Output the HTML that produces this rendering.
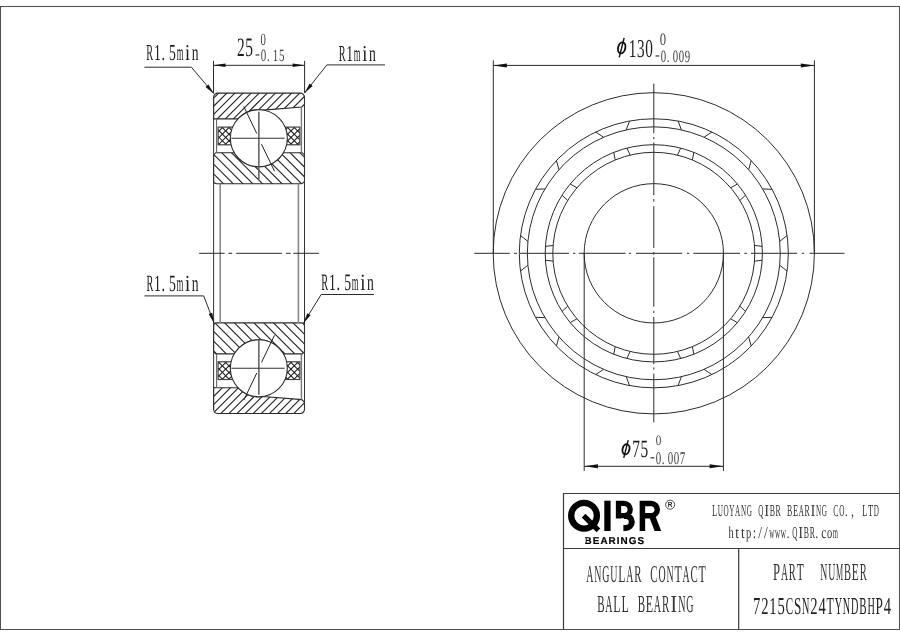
<!DOCTYPE html>
<html><head><meta charset="utf-8"><title>7215CSN24TYNDBHP4</title>
<style>html,body{margin:0;padding:0;background:#fff;}svg{display:block;}</style></head>
<body>
<svg width="900" height="636" viewBox="0 0 900 636">
<defs><filter id="gray" filterUnits="userSpaceOnUse" x="0" y="0" width="900" height="636" color-interpolation-filters="sRGB"><feColorMatrix type="saturate" values="0"/></filter></defs>
<rect x="0" y="0" width="900" height="636" fill="#fff"/>
<g filter="url(#gray)">
<rect x="0.5" y="6.5" width="899" height="623" fill="none" stroke="#505050" stroke-width="1.05"/>
<clipPath id="cot"><path d="M 213.6 118.9 L 213.6 97.3 A 4.2 4.2 0 0 1 217.8 93.1 L 300.3 93.1 A 4.2 4.2 0 0 1 304.5 97.3 L 304.5 104.2 L 301.9 107 L 263.35 110.16 A 28.5 28.5 0 0 0 237.97 118.9 Z"/></clipPath>
<g clip-path="url(#cot)" stroke="#222" stroke-width="1.1"><line x1="191.3" y1="80" x2="141.3" y2="130"/><line x1="199.4" y1="80" x2="149.4" y2="130"/><line x1="207.5" y1="80" x2="157.5" y2="130"/><line x1="215.6" y1="80" x2="165.6" y2="130"/><line x1="223.7" y1="80" x2="173.7" y2="130"/><line x1="231.8" y1="80" x2="181.8" y2="130"/><line x1="239.9" y1="80" x2="189.9" y2="130"/><line x1="248" y1="80" x2="198" y2="130"/><line x1="256.1" y1="80" x2="206.1" y2="130"/><line x1="264.2" y1="80" x2="214.2" y2="130"/><line x1="272.3" y1="80" x2="222.3" y2="130"/><line x1="280.4" y1="80" x2="230.4" y2="130"/><line x1="288.5" y1="80" x2="238.5" y2="130"/><line x1="296.6" y1="80" x2="246.6" y2="130"/><line x1="304.7" y1="80" x2="254.7" y2="130"/><line x1="312.8" y1="80" x2="262.8" y2="130"/><line x1="320.9" y1="80" x2="270.9" y2="130"/><line x1="329" y1="80" x2="279" y2="130"/><line x1="337.1" y1="80" x2="287.1" y2="130"/><line x1="345.2" y1="80" x2="295.2" y2="130"/><line x1="353.3" y1="80" x2="303.3" y2="130"/><line x1="361.4" y1="80" x2="311.4" y2="130"/><line x1="369.5" y1="80" x2="319.5" y2="130"/><line x1="377.6" y1="80" x2="327.6" y2="130"/><line x1="385.7" y1="80" x2="335.7" y2="130"/><line x1="393.8" y1="80" x2="343.8" y2="130"/></g>
<path d="M 213.6 118.9 L 213.6 97.3 A 4.2 4.2 0 0 1 217.8 93.1 L 300.3 93.1 A 4.2 4.2 0 0 1 304.5 97.3 L 304.5 104.2 L 301.9 107 L 263.35 110.16 A 28.5 28.5 0 0 0 237.97 118.9 Z" fill="none" stroke="#2b2b2b" stroke-width="1.1"/>
<clipPath id="cit"><path d="M 213.6 154.9 L 215.8 152.7 L 234.26 152.7 A 28.5 28.5 0 0 0 283.44 152.7 L 302.3 152.7 L 304.5 154.9 L 304.5 180.4 A 3.3 3.3 0 0 1 301.2 183.7 L 216.9 183.7 A 3.3 3.3 0 0 1 213.6 180.4 Z"/></clipPath>
<g clip-path="url(#cit)" stroke="#222" stroke-width="1.1"><line x1="101.54" y1="140" x2="151.54" y2="190"/><line x1="111.31" y1="140" x2="161.31" y2="190"/><line x1="121.08" y1="140" x2="171.08" y2="190"/><line x1="130.85" y1="140" x2="180.85" y2="190"/><line x1="140.62" y1="140" x2="190.62" y2="190"/><line x1="150.39" y1="140" x2="200.39" y2="190"/><line x1="160.16" y1="140" x2="210.16" y2="190"/><line x1="169.93" y1="140" x2="219.93" y2="190"/><line x1="179.7" y1="140" x2="229.7" y2="190"/><line x1="189.47" y1="140" x2="239.47" y2="190"/><line x1="199.24" y1="140" x2="249.24" y2="190"/><line x1="209.01" y1="140" x2="259.01" y2="190"/><line x1="218.78" y1="140" x2="268.78" y2="190"/><line x1="228.55" y1="140" x2="278.55" y2="190"/><line x1="238.32" y1="140" x2="288.32" y2="190"/><line x1="248.09" y1="140" x2="298.09" y2="190"/><line x1="257.86" y1="140" x2="307.86" y2="190"/><line x1="267.63" y1="140" x2="317.63" y2="190"/><line x1="277.4" y1="140" x2="327.4" y2="190"/><line x1="287.17" y1="140" x2="337.17" y2="190"/><line x1="296.94" y1="140" x2="346.94" y2="190"/><line x1="306.71" y1="140" x2="356.71" y2="190"/><line x1="316.48" y1="140" x2="366.48" y2="190"/><line x1="326.25" y1="140" x2="376.25" y2="190"/></g>
<path d="M 213.6 154.9 L 215.8 152.7 L 234.26 152.7 A 28.5 28.5 0 0 0 283.44 152.7 L 302.3 152.7 L 304.5 154.9 L 304.5 180.4 A 3.3 3.3 0 0 1 301.2 183.7 L 216.9 183.7 A 3.3 3.3 0 0 1 213.6 180.4 Z" fill="none" stroke="#2b2b2b" stroke-width="1.1"/>
<clipPath id="cgtL"><rect x="218.1" y="127.1" width="17.9" height="17.7"/></clipPath>
<g clip-path="url(#cgtL)" stroke="#1a1a1a" stroke-width="1.05"><line x1="185.23" y1="125.1" x2="163.53" y2="146.8"/><line x1="180.33" y1="125.1" x2="202.03" y2="146.8"/><line x1="191.83" y1="125.1" x2="170.13" y2="146.8"/><line x1="186.93" y1="125.1" x2="208.63" y2="146.8"/><line x1="198.43" y1="125.1" x2="176.73" y2="146.8"/><line x1="193.53" y1="125.1" x2="215.23" y2="146.8"/><line x1="205.03" y1="125.1" x2="183.33" y2="146.8"/><line x1="200.13" y1="125.1" x2="221.83" y2="146.8"/><line x1="211.63" y1="125.1" x2="189.93" y2="146.8"/><line x1="206.73" y1="125.1" x2="228.43" y2="146.8"/><line x1="218.23" y1="125.1" x2="196.53" y2="146.8"/><line x1="213.33" y1="125.1" x2="235.03" y2="146.8"/><line x1="224.83" y1="125.1" x2="203.13" y2="146.8"/><line x1="219.93" y1="125.1" x2="241.63" y2="146.8"/><line x1="231.43" y1="125.1" x2="209.73" y2="146.8"/><line x1="226.53" y1="125.1" x2="248.23" y2="146.8"/><line x1="238.03" y1="125.1" x2="216.33" y2="146.8"/><line x1="233.13" y1="125.1" x2="254.83" y2="146.8"/><line x1="244.63" y1="125.1" x2="222.93" y2="146.8"/><line x1="239.73" y1="125.1" x2="261.43" y2="146.8"/><line x1="251.23" y1="125.1" x2="229.53" y2="146.8"/><line x1="246.33" y1="125.1" x2="268.03" y2="146.8"/><line x1="257.83" y1="125.1" x2="236.13" y2="146.8"/><line x1="252.93" y1="125.1" x2="274.63" y2="146.8"/><line x1="264.43" y1="125.1" x2="242.73" y2="146.8"/><line x1="259.53" y1="125.1" x2="281.23" y2="146.8"/></g>
<rect x="218.1" y="127.1" width="17.9" height="17.7" fill="none" stroke="#444" stroke-width="1.2"/>
<clipPath id="cgtR"><rect x="282" y="127.1" width="17.9" height="17.7"/></clipPath>
<g clip-path="url(#cgtR)" stroke="#1a1a1a" stroke-width="1.05"><line x1="257.11" y1="125.1" x2="235.41" y2="146.8"/><line x1="252.21" y1="125.1" x2="273.91" y2="146.8"/><line x1="263.71" y1="125.1" x2="242.01" y2="146.8"/><line x1="258.81" y1="125.1" x2="280.51" y2="146.8"/><line x1="270.31" y1="125.1" x2="248.61" y2="146.8"/><line x1="265.41" y1="125.1" x2="287.11" y2="146.8"/><line x1="276.91" y1="125.1" x2="255.21" y2="146.8"/><line x1="272.01" y1="125.1" x2="293.71" y2="146.8"/><line x1="283.51" y1="125.1" x2="261.81" y2="146.8"/><line x1="278.61" y1="125.1" x2="300.31" y2="146.8"/><line x1="290.11" y1="125.1" x2="268.41" y2="146.8"/><line x1="285.21" y1="125.1" x2="306.91" y2="146.8"/><line x1="296.71" y1="125.1" x2="275.01" y2="146.8"/><line x1="291.81" y1="125.1" x2="313.51" y2="146.8"/><line x1="303.31" y1="125.1" x2="281.61" y2="146.8"/><line x1="298.41" y1="125.1" x2="320.11" y2="146.8"/><line x1="309.91" y1="125.1" x2="288.21" y2="146.8"/><line x1="305.01" y1="125.1" x2="326.71" y2="146.8"/><line x1="316.51" y1="125.1" x2="294.81" y2="146.8"/><line x1="311.61" y1="125.1" x2="333.31" y2="146.8"/><line x1="323.11" y1="125.1" x2="301.41" y2="146.8"/><line x1="318.21" y1="125.1" x2="339.91" y2="146.8"/><line x1="329.71" y1="125.1" x2="308.01" y2="146.8"/><line x1="324.81" y1="125.1" x2="346.51" y2="146.8"/><line x1="336.31" y1="125.1" x2="314.61" y2="146.8"/><line x1="331.41" y1="125.1" x2="353.11" y2="146.8"/></g>
<rect x="282" y="127.1" width="17.9" height="17.7" fill="none" stroke="#444" stroke-width="1.2"/>
<circle cx="258.85" cy="138.3" r="28.5" fill="#fff" stroke="#2b2b2b" stroke-width="1.1"/>
<line x1="258.85" y1="111.8" x2="258.85" y2="179.4" stroke="#5c5c5c" stroke-width="1.5"/>
<line x1="231.4" y1="138.3" x2="284.6" y2="138.3" stroke="#303030" stroke-width="1.1"/>
<line x1="243.8" y1="106.5" x2="256.8" y2="133.6" stroke="#222" stroke-width="1"/>
<line x1="261.5" y1="144.2" x2="274.5" y2="171.3" stroke="#222" stroke-width="1"/>
<line x1="216.6" y1="118.9" x2="216.6" y2="152.7" stroke="#666" stroke-width="1.1"/>
<line x1="301.4" y1="107" x2="301.4" y2="152.7" stroke="#777" stroke-width="1.4"/>
<clipPath id="cob"><path d="M 213.6 387.7 L 213.6 409.3 A 4.2 4.2 0 0 0 217.8 413.5 L 300.3 413.5 A 4.2 4.2 0 0 0 304.5 409.3 L 304.5 402.4 L 301.9 399.6 L 263.35 396.44 A 28.5 28.5 0 0 1 237.97 387.7 Z"/></clipPath>
<g clip-path="url(#cob)" stroke="#222" stroke-width="1.1"><line x1="205.8" y1="380" x2="160.8" y2="425"/><line x1="213.9" y1="380" x2="168.9" y2="425"/><line x1="222" y1="380" x2="177" y2="425"/><line x1="230.1" y1="380" x2="185.1" y2="425"/><line x1="238.2" y1="380" x2="193.2" y2="425"/><line x1="246.3" y1="380" x2="201.3" y2="425"/><line x1="254.4" y1="380" x2="209.4" y2="425"/><line x1="262.5" y1="380" x2="217.5" y2="425"/><line x1="270.6" y1="380" x2="225.6" y2="425"/><line x1="278.7" y1="380" x2="233.7" y2="425"/><line x1="286.8" y1="380" x2="241.8" y2="425"/><line x1="294.9" y1="380" x2="249.9" y2="425"/><line x1="303" y1="380" x2="258" y2="425"/><line x1="311.1" y1="380" x2="266.1" y2="425"/><line x1="319.2" y1="380" x2="274.2" y2="425"/><line x1="327.3" y1="380" x2="282.3" y2="425"/><line x1="335.4" y1="380" x2="290.4" y2="425"/><line x1="343.5" y1="380" x2="298.5" y2="425"/><line x1="351.6" y1="380" x2="306.6" y2="425"/><line x1="359.7" y1="380" x2="314.7" y2="425"/><line x1="367.8" y1="380" x2="322.8" y2="425"/><line x1="375.9" y1="380" x2="330.9" y2="425"/><line x1="384" y1="380" x2="339" y2="425"/><line x1="392.1" y1="380" x2="347.1" y2="425"/><line x1="400.2" y1="380" x2="355.2" y2="425"/><line x1="408.3" y1="380" x2="363.3" y2="425"/></g>
<path d="M 213.6 387.7 L 213.6 409.3 A 4.2 4.2 0 0 0 217.8 413.5 L 300.3 413.5 A 4.2 4.2 0 0 0 304.5 409.3 L 304.5 402.4 L 301.9 399.6 L 263.35 396.44 A 28.5 28.5 0 0 1 237.97 387.7 Z" fill="none" stroke="#2b2b2b" stroke-width="1.1"/>
<clipPath id="cib"><path d="M 213.6 351.7 L 215.8 353.9 L 234.26 353.9 A 28.5 28.5 0 0 1 283.44 353.9 L 302.3 353.9 L 304.5 351.7 L 304.5 326.2 A 3.3 3.3 0 0 0 301.2 322.9 L 216.9 322.9 A 3.3 3.3 0 0 0 213.6 326.2 Z"/></clipPath>
<g clip-path="url(#cib)" stroke="#222" stroke-width="1.1"><line x1="138.64" y1="315" x2="188.64" y2="365"/><line x1="148.41" y1="315" x2="198.41" y2="365"/><line x1="158.18" y1="315" x2="208.18" y2="365"/><line x1="167.95" y1="315" x2="217.95" y2="365"/><line x1="177.72" y1="315" x2="227.72" y2="365"/><line x1="187.49" y1="315" x2="237.49" y2="365"/><line x1="197.26" y1="315" x2="247.26" y2="365"/><line x1="207.03" y1="315" x2="257.03" y2="365"/><line x1="216.8" y1="315" x2="266.8" y2="365"/><line x1="226.57" y1="315" x2="276.57" y2="365"/><line x1="236.34" y1="315" x2="286.34" y2="365"/><line x1="246.11" y1="315" x2="296.11" y2="365"/><line x1="255.88" y1="315" x2="305.88" y2="365"/><line x1="265.65" y1="315" x2="315.65" y2="365"/><line x1="275.42" y1="315" x2="325.42" y2="365"/><line x1="285.19" y1="315" x2="335.19" y2="365"/><line x1="294.96" y1="315" x2="344.96" y2="365"/><line x1="304.73" y1="315" x2="354.73" y2="365"/><line x1="314.5" y1="315" x2="364.5" y2="365"/><line x1="324.27" y1="315" x2="374.27" y2="365"/><line x1="334.04" y1="315" x2="384.04" y2="365"/><line x1="343.81" y1="315" x2="393.81" y2="365"/><line x1="353.58" y1="315" x2="403.58" y2="365"/><line x1="363.35" y1="315" x2="413.35" y2="365"/></g>
<path d="M 213.6 351.7 L 215.8 353.9 L 234.26 353.9 A 28.5 28.5 0 0 1 283.44 353.9 L 302.3 353.9 L 304.5 351.7 L 304.5 326.2 A 3.3 3.3 0 0 0 301.2 322.9 L 216.9 322.9 A 3.3 3.3 0 0 0 213.6 326.2 Z" fill="none" stroke="#2b2b2b" stroke-width="1.1"/>
<clipPath id="cgbL"><rect x="218.1" y="361.8" width="17.9" height="17.7"/></clipPath>
<g clip-path="url(#cgbL)" stroke="#1a1a1a" stroke-width="1.05"><line x1="202.03" y1="359.8" x2="180.33" y2="381.5"/><line x1="163.53" y1="359.8" x2="185.23" y2="381.5"/><line x1="208.63" y1="359.8" x2="186.93" y2="381.5"/><line x1="170.13" y1="359.8" x2="191.83" y2="381.5"/><line x1="215.23" y1="359.8" x2="193.53" y2="381.5"/><line x1="176.73" y1="359.8" x2="198.43" y2="381.5"/><line x1="221.83" y1="359.8" x2="200.13" y2="381.5"/><line x1="183.33" y1="359.8" x2="205.03" y2="381.5"/><line x1="228.43" y1="359.8" x2="206.73" y2="381.5"/><line x1="189.93" y1="359.8" x2="211.63" y2="381.5"/><line x1="235.03" y1="359.8" x2="213.33" y2="381.5"/><line x1="196.53" y1="359.8" x2="218.23" y2="381.5"/><line x1="241.63" y1="359.8" x2="219.93" y2="381.5"/><line x1="203.13" y1="359.8" x2="224.83" y2="381.5"/><line x1="248.23" y1="359.8" x2="226.53" y2="381.5"/><line x1="209.73" y1="359.8" x2="231.43" y2="381.5"/><line x1="254.83" y1="359.8" x2="233.13" y2="381.5"/><line x1="216.33" y1="359.8" x2="238.03" y2="381.5"/><line x1="261.43" y1="359.8" x2="239.73" y2="381.5"/><line x1="222.93" y1="359.8" x2="244.63" y2="381.5"/><line x1="268.03" y1="359.8" x2="246.33" y2="381.5"/><line x1="229.53" y1="359.8" x2="251.23" y2="381.5"/><line x1="274.63" y1="359.8" x2="252.93" y2="381.5"/><line x1="236.13" y1="359.8" x2="257.83" y2="381.5"/><line x1="281.23" y1="359.8" x2="259.53" y2="381.5"/><line x1="242.73" y1="359.8" x2="264.43" y2="381.5"/></g>
<rect x="218.1" y="361.8" width="17.9" height="17.7" fill="none" stroke="#444" stroke-width="1.2"/>
<clipPath id="cgbR"><rect x="282" y="361.8" width="17.9" height="17.7"/></clipPath>
<g clip-path="url(#cgbR)" stroke="#1a1a1a" stroke-width="1.05"><line x1="273.91" y1="359.8" x2="252.21" y2="381.5"/><line x1="235.41" y1="359.8" x2="257.11" y2="381.5"/><line x1="280.51" y1="359.8" x2="258.81" y2="381.5"/><line x1="242.01" y1="359.8" x2="263.71" y2="381.5"/><line x1="287.11" y1="359.8" x2="265.41" y2="381.5"/><line x1="248.61" y1="359.8" x2="270.31" y2="381.5"/><line x1="293.71" y1="359.8" x2="272.01" y2="381.5"/><line x1="255.21" y1="359.8" x2="276.91" y2="381.5"/><line x1="300.31" y1="359.8" x2="278.61" y2="381.5"/><line x1="261.81" y1="359.8" x2="283.51" y2="381.5"/><line x1="306.91" y1="359.8" x2="285.21" y2="381.5"/><line x1="268.41" y1="359.8" x2="290.11" y2="381.5"/><line x1="313.51" y1="359.8" x2="291.81" y2="381.5"/><line x1="275.01" y1="359.8" x2="296.71" y2="381.5"/><line x1="320.11" y1="359.8" x2="298.41" y2="381.5"/><line x1="281.61" y1="359.8" x2="303.31" y2="381.5"/><line x1="326.71" y1="359.8" x2="305.01" y2="381.5"/><line x1="288.21" y1="359.8" x2="309.91" y2="381.5"/><line x1="333.31" y1="359.8" x2="311.61" y2="381.5"/><line x1="294.81" y1="359.8" x2="316.51" y2="381.5"/><line x1="339.91" y1="359.8" x2="318.21" y2="381.5"/><line x1="301.41" y1="359.8" x2="323.11" y2="381.5"/><line x1="346.51" y1="359.8" x2="324.81" y2="381.5"/><line x1="308.01" y1="359.8" x2="329.71" y2="381.5"/><line x1="353.11" y1="359.8" x2="331.41" y2="381.5"/><line x1="314.61" y1="359.8" x2="336.31" y2="381.5"/></g>
<rect x="282" y="361.8" width="17.9" height="17.7" fill="none" stroke="#444" stroke-width="1.2"/>
<circle cx="258.85" cy="368.3" r="28.5" fill="#fff" stroke="#2b2b2b" stroke-width="1.1"/>
<line x1="258.85" y1="339.4" x2="258.85" y2="394.7" stroke="#5c5c5c" stroke-width="1.5"/>
<line x1="231.4" y1="368.3" x2="284.6" y2="368.3" stroke="#303030" stroke-width="1.1"/>
<line x1="243.8" y1="400.1" x2="256.8" y2="373" stroke="#222" stroke-width="1"/>
<line x1="261.5" y1="362.4" x2="274.5" y2="335.3" stroke="#222" stroke-width="1"/>
<line x1="216.6" y1="387.7" x2="216.6" y2="353.9" stroke="#666" stroke-width="1.1"/>
<line x1="301.4" y1="399.6" x2="301.4" y2="353.9" stroke="#777" stroke-width="1.4"/>
<line x1="213.6" y1="97.3" x2="213.6" y2="409.3" stroke="#333" stroke-width="1"/>
<line x1="304.5" y1="97.3" x2="304.5" y2="409.3" stroke="#333" stroke-width="1"/>
<line x1="220.2" y1="183.7" x2="220.2" y2="322.9" stroke="#8a8a8a" stroke-width="1.6"/>
<line x1="298.4" y1="183.7" x2="298.4" y2="322.9" stroke="#8a8a8a" stroke-width="1.6"/>
<line x1="199.1" y1="253.3" x2="224.7" y2="253.3" stroke="#2b2b2b" stroke-width="1"/>
<line x1="228.3" y1="253.3" x2="232.2" y2="253.3" stroke="#2b2b2b" stroke-width="1"/>
<line x1="236.2" y1="253.3" x2="281.8" y2="253.3" stroke="#2b2b2b" stroke-width="1"/>
<line x1="286.1" y1="253.3" x2="290.6" y2="253.3" stroke="#2b2b2b" stroke-width="1"/>
<line x1="293.3" y1="253.3" x2="319.1" y2="253.3" stroke="#2b2b2b" stroke-width="1"/>
<line x1="213.5" y1="60.9" x2="213.5" y2="93" stroke="#2b2b2b" stroke-width="1"/>
<line x1="304.6" y1="60.9" x2="304.6" y2="93" stroke="#2b2b2b" stroke-width="1"/>
<line x1="213.5" y1="65.3" x2="304.6" y2="65.3" stroke="#2b2b2b" stroke-width="1"/>
<polygon points="213.5,65.3 225.5,63.6 225.5,67" fill="#111"/>
<polygon points="304.6,65.3 292.6,67 292.6,63.6" fill="#111"/>
<path d="M 144.4 67.2 L 191.4 67.2 L 213.8 93.7" fill="none" stroke="#2b2b2b" stroke-width="1.0"/>
<polygon points="213.8,93.7 205.57,86.91 208.47,84.45" fill="#111"/>
<path d="M 385 64.9 L 326.9 64.9 L 304.6 93" fill="none" stroke="#2b2b2b" stroke-width="1.0"/>
<polygon points="304.6,93 309.64,83.59 312.62,85.96" fill="#111"/>
<path d="M 144.4 295.9 L 203.7 295.9 L 214.2 323.2" fill="none" stroke="#2b2b2b" stroke-width="1.0"/>
<polygon points="214.2,323.2 208.66,314.08 212.2,312.72" fill="#111"/>
<path d="M 373.9 294.5 L 321.2 294.5 L 303.4 323.2" fill="none" stroke="#2b2b2b" stroke-width="1.0"/>
<polygon points="303.4,323.2 307.32,313.28 310.55,315.28" fill="#111"/>
<g font-family="Liberation Serif, serif" font-size="22.76" fill="#1c1c1c" text-anchor="middle" text-rendering="geometricPrecision"><text transform="translate(149.78 60.1) scale(0.45 1)">R</text><text transform="translate(157.34 60.1) scale(0.6 1)">1</text><text transform="translate(163.38 60.1) scale(0.62 1)">.</text><text transform="translate(172.45 60.1) scale(0.6 1)">5</text><text transform="translate(180.01 60.1) scale(0.38 1)">m</text><text transform="translate(187.56 60.1) scale(0.8 1)">i</text><text transform="translate(195.12 60.1) scale(0.6 1)">n</text></g>
<g font-family="Liberation Serif, serif" font-size="22.76" fill="#1c1c1c" text-anchor="middle" text-rendering="geometricPrecision"><text transform="translate(342.08 60.9) scale(0.45 1)">R</text><text transform="translate(349.64 60.9) scale(0.6 1)">1</text><text transform="translate(357.2 60.9) scale(0.38 1)">m</text><text transform="translate(364.76 60.9) scale(0.8 1)">i</text><text transform="translate(372.32 60.9) scale(0.6 1)">n</text></g>
<g font-family="Liberation Serif, serif" font-size="23.21" fill="#1c1c1c" text-anchor="middle" text-rendering="geometricPrecision"><text transform="translate(149.78 290.6) scale(0.44 1)">R</text><text transform="translate(157.34 290.6) scale(0.59 1)">1</text><text transform="translate(163.38 290.6) scale(0.62 1)">.</text><text transform="translate(172.45 290.6) scale(0.59 1)">5</text><text transform="translate(180.01 290.6) scale(0.38 1)">m</text><text transform="translate(187.56 290.6) scale(0.8 1)">i</text><text transform="translate(195.12 290.6) scale(0.59 1)">n</text></g>
<g font-family="Liberation Serif, serif" font-size="23.52" fill="#1c1c1c" text-anchor="middle" text-rendering="geometricPrecision"><text transform="translate(324.71 290.3) scale(0.44 1)">R</text><text transform="translate(332.32 290.3) scale(0.58 1)">1</text><text transform="translate(338.41 290.3) scale(0.62 1)">.</text><text transform="translate(347.55 290.3) scale(0.58 1)">5</text><text transform="translate(355.16 290.3) scale(0.37 1)">m</text><text transform="translate(362.78 290.3) scale(0.8 1)">i</text><text transform="translate(370.39 290.3) scale(0.58 1)">n</text></g>
<g font-family="Liberation Serif, serif" font-size="26.63" fill="#1c1c1c" text-anchor="middle" text-rendering="geometricPrecision"><text transform="translate(240.82 56.1) scale(0.58 1)">2</text><text transform="translate(249.08 56.1) scale(0.58 1)">5</text></g>
<g font-family="Liberation Serif, serif" font-size="17.01" fill="#444" text-anchor="middle" text-rendering="geometricPrecision"><text transform="translate(263.3 44.5) scale(0.63 1)">0</text></g>
<g font-family="Liberation Serif, serif" font-size="17.16" fill="#444" text-anchor="middle" text-rendering="geometricPrecision"><text transform="translate(257.43 59.06) scale(0.85 1)">-</text><text transform="translate(263.49 61.2) scale(0.64 1)">0</text><text transform="translate(268.34 61.2) scale(0.62 1)">.</text><text transform="translate(275.61 61.2) scale(0.64 1)">1</text><text transform="translate(281.67 61.2) scale(0.64 1)">5</text></g>
<circle cx="653.8" cy="253.3" r="160.6" fill="none" stroke="#2b2b2b" stroke-width="1.0"/>
<circle cx="653.8" cy="253.3" r="134.5" fill="none" stroke="#2b2b2b" stroke-width="1.0"/>
<circle cx="653.8" cy="253.3" r="126.45" fill="none" stroke="#2b2b2b" stroke-width="1.0"/>
<circle cx="653.8" cy="253.3" r="108.6" fill="none" stroke="#2b2b2b" stroke-width="1.0"/>
<circle cx="653.8" cy="253.3" r="101" fill="none" stroke="#2b2b2b" stroke-width="1.0"/>
<circle cx="653.8" cy="253.3" r="69.65" fill="none" stroke="#2b2b2b" stroke-width="1.0"/>
<line x1="681.38" y1="129.9" x2="678.08" y2="121.01" stroke="#2b2b2b" stroke-width="1"/>
<line x1="680.72" y1="148.09" x2="677.46" y2="155.11" stroke="#2b2b2b" stroke-width="1"/>
<line x1="704.02" y1="137.25" x2="711.92" y2="132" stroke="#2b2b2b" stroke-width="1"/>
<line x1="693.87" y1="152.36" x2="692.37" y2="159.95" stroke="#2b2b2b" stroke-width="1"/>
<line x1="748.65" y1="169.68" x2="751.2" y2="160.55" stroke="#2b2b2b" stroke-width="1"/>
<line x1="737.42" y1="184" x2="730.66" y2="187.77" stroke="#2b2b2b" stroke-width="1"/>
<line x1="762.64" y1="188.93" x2="772.11" y2="189.33" stroke="#2b2b2b" stroke-width="1"/>
<line x1="745.54" y1="195.19" x2="739.87" y2="200.45" stroke="#2b2b2b" stroke-width="1"/>
<line x1="779.69" y1="241.4" x2="787.12" y2="235.51" stroke="#2b2b2b" stroke-width="1"/>
<line x1="762.18" y1="246.39" x2="754.5" y2="245.46" stroke="#2b2b2b" stroke-width="1"/>
<line x1="779.69" y1="265.2" x2="787.12" y2="271.09" stroke="#2b2b2b" stroke-width="1"/>
<line x1="762.18" y1="260.21" x2="754.5" y2="261.14" stroke="#2b2b2b" stroke-width="1"/>
<line x1="762.64" y1="317.67" x2="772.11" y2="317.27" stroke="#2b2b2b" stroke-width="1"/>
<line x1="745.54" y1="311.41" x2="739.87" y2="306.15" stroke="#2b2b2b" stroke-width="1"/>
<line x1="748.65" y1="336.92" x2="751.2" y2="346.05" stroke="#2b2b2b" stroke-width="1"/>
<line x1="737.42" y1="322.6" x2="730.66" y2="318.83" stroke="#2b2b2b" stroke-width="1"/>
<line x1="704.02" y1="369.35" x2="711.92" y2="374.6" stroke="#2b2b2b" stroke-width="1"/>
<line x1="693.87" y1="354.24" x2="692.37" y2="346.65" stroke="#2b2b2b" stroke-width="1"/>
<line x1="681.38" y1="376.7" x2="678.08" y2="385.59" stroke="#2b2b2b" stroke-width="1"/>
<line x1="680.72" y1="358.51" x2="677.46" y2="351.49" stroke="#2b2b2b" stroke-width="1"/>
<line x1="626.22" y1="376.7" x2="629.52" y2="385.59" stroke="#2b2b2b" stroke-width="1"/>
<line x1="626.88" y1="358.51" x2="630.14" y2="351.49" stroke="#2b2b2b" stroke-width="1"/>
<line x1="603.58" y1="369.35" x2="595.68" y2="374.6" stroke="#2b2b2b" stroke-width="1"/>
<line x1="613.73" y1="354.24" x2="615.23" y2="346.65" stroke="#2b2b2b" stroke-width="1"/>
<line x1="558.95" y1="336.92" x2="556.4" y2="346.05" stroke="#2b2b2b" stroke-width="1"/>
<line x1="570.18" y1="322.6" x2="576.94" y2="318.83" stroke="#2b2b2b" stroke-width="1"/>
<line x1="544.96" y1="317.67" x2="535.49" y2="317.27" stroke="#2b2b2b" stroke-width="1"/>
<line x1="562.06" y1="311.41" x2="567.73" y2="306.15" stroke="#2b2b2b" stroke-width="1"/>
<line x1="527.91" y1="265.2" x2="520.48" y2="271.09" stroke="#2b2b2b" stroke-width="1"/>
<line x1="545.42" y1="260.21" x2="553.1" y2="261.14" stroke="#2b2b2b" stroke-width="1"/>
<line x1="527.91" y1="241.4" x2="520.48" y2="235.51" stroke="#2b2b2b" stroke-width="1"/>
<line x1="545.42" y1="246.39" x2="553.1" y2="245.46" stroke="#2b2b2b" stroke-width="1"/>
<line x1="544.96" y1="188.93" x2="535.49" y2="189.33" stroke="#2b2b2b" stroke-width="1"/>
<line x1="562.06" y1="195.19" x2="567.73" y2="200.45" stroke="#2b2b2b" stroke-width="1"/>
<line x1="558.95" y1="169.68" x2="556.4" y2="160.55" stroke="#2b2b2b" stroke-width="1"/>
<line x1="570.18" y1="184" x2="576.94" y2="187.77" stroke="#2b2b2b" stroke-width="1"/>
<line x1="603.58" y1="137.25" x2="595.68" y2="132" stroke="#2b2b2b" stroke-width="1"/>
<line x1="613.73" y1="152.36" x2="615.23" y2="159.95" stroke="#2b2b2b" stroke-width="1"/>
<line x1="626.22" y1="129.9" x2="629.52" y2="121.01" stroke="#2b2b2b" stroke-width="1"/>
<line x1="626.88" y1="148.09" x2="630.14" y2="155.11" stroke="#2b2b2b" stroke-width="1"/>
<line x1="474.3" y1="253.3" x2="509.8" y2="253.3" stroke="#2b2b2b" stroke-width="1"/>
<line x1="514.1" y1="253.3" x2="517" y2="253.3" stroke="#2b2b2b" stroke-width="1"/>
<line x1="519.9" y1="253.3" x2="569" y2="253.3" stroke="#2b2b2b" stroke-width="1"/>
<line x1="573" y1="253.3" x2="575.4" y2="253.3" stroke="#2b2b2b" stroke-width="1"/>
<line x1="578.8" y1="253.3" x2="625.6" y2="253.3" stroke="#2b2b2b" stroke-width="1"/>
<line x1="628.8" y1="253.3" x2="631.1" y2="253.3" stroke="#2b2b2b" stroke-width="1"/>
<line x1="636" y1="253.3" x2="682.2" y2="253.3" stroke="#2b2b2b" stroke-width="1"/>
<line x1="687" y1="253.3" x2="689.3" y2="253.3" stroke="#2b2b2b" stroke-width="1"/>
<line x1="693.3" y1="253.3" x2="740" y2="253.3" stroke="#2b2b2b" stroke-width="1"/>
<line x1="744.3" y1="253.3" x2="746.8" y2="253.3" stroke="#2b2b2b" stroke-width="1"/>
<line x1="751" y1="253.3" x2="797.1" y2="253.3" stroke="#2b2b2b" stroke-width="1"/>
<line x1="801.8" y1="253.3" x2="804.1" y2="253.3" stroke="#2b2b2b" stroke-width="1"/>
<line x1="809.5" y1="253.3" x2="844.5" y2="253.3" stroke="#2b2b2b" stroke-width="1"/>
<line x1="653.8" y1="83.6" x2="653.8" y2="133.3" stroke="#2b2b2b" stroke-width="1"/>
<line x1="653.8" y1="137" x2="653.8" y2="139.2" stroke="#2b2b2b" stroke-width="1"/>
<line x1="653.8" y1="142.4" x2="653.8" y2="195.2" stroke="#2b2b2b" stroke-width="1"/>
<line x1="653.8" y1="199" x2="653.8" y2="201.6" stroke="#2b2b2b" stroke-width="1"/>
<line x1="653.8" y1="206.2" x2="653.8" y2="248" stroke="#2b2b2b" stroke-width="1"/>
<line x1="653.8" y1="252" x2="653.8" y2="254.6" stroke="#2b2b2b" stroke-width="1"/>
<line x1="653.8" y1="257.3" x2="653.8" y2="306.7" stroke="#2b2b2b" stroke-width="1"/>
<line x1="653.8" y1="310.8" x2="653.8" y2="313" stroke="#2b2b2b" stroke-width="1"/>
<line x1="653.8" y1="317" x2="653.8" y2="364.2" stroke="#2b2b2b" stroke-width="1"/>
<line x1="653.8" y1="367.4" x2="653.8" y2="369.6" stroke="#2b2b2b" stroke-width="1"/>
<line x1="653.8" y1="373.6" x2="653.8" y2="422.4" stroke="#2b2b2b" stroke-width="1"/>
<line x1="493.3" y1="60.3" x2="493.3" y2="253.3" stroke="#2b2b2b" stroke-width="1"/>
<line x1="814.4" y1="60.3" x2="814.4" y2="253.3" stroke="#2b2b2b" stroke-width="1"/>
<line x1="493.3" y1="65.4" x2="814.4" y2="65.4" stroke="#2b2b2b" stroke-width="1"/>
<polygon points="493.3,65.4 506.9,63.4 506.9,67.4" fill="#111"/>
<polygon points="814.4,65.4 800.8,67.4 800.8,63.4" fill="#111"/>
<line x1="584.2" y1="253.3" x2="584.2" y2="470.9" stroke="#2b2b2b" stroke-width="1"/>
<line x1="723.4" y1="253.3" x2="723.4" y2="470.9" stroke="#2b2b2b" stroke-width="1"/>
<line x1="584.2" y1="466.3" x2="723.4" y2="466.3" stroke="#2b2b2b" stroke-width="1"/>
<polygon points="584.2,466.3 598,464.3 598,468.3" fill="#111"/>
<polygon points="723.4,466.3 709.6,468.3 709.6,464.3" fill="#111"/>
<g fill="none" stroke="#111"><ellipse cx="621.7" cy="47.9" rx="3.6" ry="5.59" transform="rotate(14 621.7 47.9)" stroke-width="1.9"/><line x1="619.26" y1="57.4" x2="624.14" y2="37.8" stroke-width="1.4"/></g>
<g font-family="Liberation Serif, serif" font-size="25.89" fill="#1c1c1c" text-anchor="middle" text-rendering="geometricPrecision"><text transform="translate(632.52 56.5) scale(0.59 1)">1</text><text transform="translate(640.75 56.5) scale(0.59 1)">3</text><text transform="translate(648.98 56.5) scale(0.59 1)">0</text></g>
<g font-family="Liberation Serif, serif" font-size="17.16" fill="#444" text-anchor="middle" text-rendering="geometricPrecision"><text transform="translate(662.95 44.6) scale(0.74 1)">0</text></g>
<g font-family="Liberation Serif, serif" font-size="17.16" fill="#444" text-anchor="middle" text-rendering="geometricPrecision"><text transform="translate(657.32 60.16) scale(0.84 1)">-</text><text transform="translate(663.35 62.3) scale(0.63 1)">0</text><text transform="translate(668.18 62.3) scale(0.62 1)">.</text><text transform="translate(675.42 62.3) scale(0.63 1)">0</text><text transform="translate(681.45 62.3) scale(0.63 1)">0</text><text transform="translate(687.48 62.3) scale(0.63 1)">9</text></g>
<g fill="none" stroke="#111"><ellipse cx="626" cy="449.3" rx="3.45" ry="5.07" transform="rotate(14 626 449.3)" stroke-width="1.9"/><line x1="623.78" y1="457.9" x2="628.22" y2="440.1" stroke-width="1.4"/></g>
<g font-family="Liberation Serif, serif" font-size="24.85" fill="#1c1c1c" text-anchor="middle" text-rendering="geometricPrecision"><text transform="translate(636.05 457.4) scale(0.62 1)">7</text><text transform="translate(644.35 457.4) scale(0.62 1)">5</text></g>
<g font-family="Liberation Serif, serif" font-size="14.35" fill="#444" text-anchor="middle" text-rendering="geometricPrecision"><text transform="translate(658.55 445.4) scale(0.78 1)">0</text></g>
<g font-family="Liberation Serif, serif" font-size="17.9" fill="#444" text-anchor="middle" text-rendering="geometricPrecision"><text transform="translate(652.41 461.56) scale(0.81 1)">-</text><text transform="translate(658.43 463.8) scale(0.61 1)">0</text><text transform="translate(663.24 463.8) scale(0.62 1)">.</text><text transform="translate(670.46 463.8) scale(0.61 1)">0</text><text transform="translate(676.48 463.8) scale(0.61 1)">0</text><text transform="translate(682.49 463.8) scale(0.61 1)">7</text></g>
<path d="M 899.5 493.5 H 563.5 V 629.5" fill="none" stroke="#3a3a3a" stroke-width="1.2"/>
<line x1="563.5" y1="548.5" x2="899.5" y2="548.5" stroke="#3a3a3a" stroke-width="1.2"/>
<line x1="738.7" y1="548.5" x2="738.7" y2="629.5" stroke="#3a3a3a" stroke-width="1.2"/>
<g font-family="Liberation Serif, serif" font-size="16.65" fill="#333" text-anchor="middle" text-rendering="geometricPrecision"><text transform="translate(714.59 515.5) scale(0.51 1)">L</text><text transform="translate(720.37 515.5) scale(0.43 1)">U</text><text transform="translate(726.15 515.5) scale(0.43 1)">O</text><text transform="translate(731.93 515.5) scale(0.43 1)">Y</text><text transform="translate(737.71 515.5) scale(0.43 1)">A</text><text transform="translate(743.49 515.5) scale(0.43 1)">N</text><text transform="translate(749.27 515.5) scale(0.43 1)">G</text><text transform="translate(760.82 515.5) scale(0.43 1)">Q</text><text transform="translate(766.6 515.5) scale(0.8 1)">I</text><text transform="translate(772.38 515.5) scale(0.47 1)">B</text><text transform="translate(778.16 515.5) scale(0.47 1)">R</text><text transform="translate(789.72 515.5) scale(0.47 1)">B</text><text transform="translate(795.5 515.5) scale(0.51 1)">E</text><text transform="translate(801.28 515.5) scale(0.43 1)">A</text><text transform="translate(807.06 515.5) scale(0.47 1)">R</text><text transform="translate(812.84 515.5) scale(0.8 1)">I</text><text transform="translate(818.62 515.5) scale(0.43 1)">N</text><text transform="translate(824.4 515.5) scale(0.43 1)">G</text><text transform="translate(835.96 515.5) scale(0.47 1)">C</text><text transform="translate(841.73 515.5) scale(0.43 1)">O</text><text transform="translate(846.36 515.5) scale(0.62 1)">.</text><text transform="translate(852.43 515.5) scale(0.62 1)">,</text><text transform="translate(864.85 515.5) scale(0.51 1)">L</text><text transform="translate(870.63 515.5) scale(0.51 1)">T</text><text transform="translate(876.41 515.5) scale(0.43 1)">D</text></g>
<g font-family="Liberation Serif, serif" font-size="16.65" fill="#333" text-anchor="middle" text-rendering="geometricPrecision"><text transform="translate(731.19 538.4) scale(0.63 1)">h</text><text transform="translate(736.98 538.4) scale(0.8 1)">t</text><text transform="translate(742.77 538.4) scale(0.8 1)">t</text><text transform="translate(748.56 538.4) scale(0.63 1)">p</text><text transform="translate(754.35 538.4) scale(0.62 1)">:</text><text transform="translate(760.14 538.4) scale(0.8 1)">/</text><text transform="translate(765.93 538.4) scale(0.8 1)">/</text><text transform="translate(771.72 538.4) scale(0.43 1)">w</text><text transform="translate(777.51 538.4) scale(0.43 1)">w</text><text transform="translate(783.3 538.4) scale(0.43 1)">w</text><text transform="translate(787.93 538.4) scale(0.62 1)">.</text><text transform="translate(794.88 538.4) scale(0.43 1)">Q</text><text transform="translate(800.67 538.4) scale(0.8 1)">I</text><text transform="translate(806.46 538.4) scale(0.47 1)">B</text><text transform="translate(812.25 538.4) scale(0.47 1)">R</text><text transform="translate(816.88 538.4) scale(0.62 1)">.</text><text transform="translate(823.83 538.4) scale(0.71 1)">c</text><text transform="translate(829.62 538.4) scale(0.63 1)">o</text><text transform="translate(835.41 538.4) scale(0.4 1)">m</text></g>
<g font-family="Liberation Serif, serif" font-size="24.44" fill="#333" text-anchor="middle" text-rendering="geometricPrecision"><text transform="translate(776.63 580) scale(0.52 1)">P</text><text transform="translate(784.5 580) scale(0.4 1)">A</text><text transform="translate(792.37 580) scale(0.43 1)">R</text><text transform="translate(800.23 580) scale(0.47 1)">T</text><text transform="translate(823.83 580) scale(0.4 1)">N</text><text transform="translate(831.7 580) scale(0.4 1)">U</text><text transform="translate(839.57 580) scale(0.33 1)">M</text><text transform="translate(847.43 580) scale(0.43 1)">B</text><text transform="translate(855.3 580) scale(0.47 1)">E</text><text transform="translate(863.17 580) scale(0.43 1)">R</text></g>
<g font-family="Liberation Serif, serif" font-size="24.36" fill="#222" text-anchor="middle" text-rendering="geometricPrecision"><text transform="translate(756.69 613.9) scale(0.6 1)">7</text><text transform="translate(764.86 613.9) scale(0.6 1)">2</text><text transform="translate(773.03 613.9) scale(0.6 1)">1</text><text transform="translate(781.2 613.9) scale(0.6 1)">5</text><text transform="translate(789.37 613.9) scale(0.45 1)">C</text><text transform="translate(797.54 613.9) scale(0.54 1)">S</text><text transform="translate(805.71 613.9) scale(0.42 1)">N</text><text transform="translate(813.88 613.9) scale(0.6 1)">2</text><text transform="translate(822.05 613.9) scale(0.6 1)">4</text><text transform="translate(830.22 613.9) scale(0.49 1)">T</text><text transform="translate(838.39 613.9) scale(0.42 1)">Y</text><text transform="translate(846.56 613.9) scale(0.42 1)">N</text><text transform="translate(854.73 613.9) scale(0.42 1)">D</text><text transform="translate(862.9 613.9) scale(0.45 1)">B</text><text transform="translate(871.07 613.9) scale(0.42 1)">H</text><text transform="translate(879.24 613.9) scale(0.54 1)">P</text><text transform="translate(887.41 613.9) scale(0.6 1)">4</text></g>
<g font-family="Liberation Serif, serif" font-size="24.13" fill="#333" text-anchor="middle" text-rendering="geometricPrecision"><text transform="translate(589.72 581.8) scale(0.41 1)">A</text><text transform="translate(597.75 581.8) scale(0.41 1)">N</text><text transform="translate(605.78 581.8) scale(0.41 1)">G</text><text transform="translate(613.82 581.8) scale(0.41 1)">U</text><text transform="translate(621.85 581.8) scale(0.49 1)">L</text><text transform="translate(629.88 581.8) scale(0.41 1)">A</text><text transform="translate(637.92 581.8) scale(0.45 1)">R</text><text transform="translate(653.98 581.8) scale(0.45 1)">C</text><text transform="translate(662.02 581.8) scale(0.41 1)">O</text><text transform="translate(670.05 581.8) scale(0.41 1)">N</text><text transform="translate(678.08 581.8) scale(0.49 1)">T</text><text transform="translate(686.12 581.8) scale(0.41 1)">A</text><text transform="translate(694.15 581.8) scale(0.45 1)">C</text><text transform="translate(702.18 581.8) scale(0.49 1)">T</text></g>
<g font-family="Liberation Serif, serif" font-size="24.44" fill="#333" text-anchor="middle" text-rendering="geometricPrecision"><text transform="translate(600.85 611.7) scale(0.45 1)">B</text><text transform="translate(608.94 611.7) scale(0.41 1)">A</text><text transform="translate(617.03 611.7) scale(0.49 1)">L</text><text transform="translate(625.12 611.7) scale(0.49 1)">L</text><text transform="translate(641.3 611.7) scale(0.45 1)">B</text><text transform="translate(649.4 611.7) scale(0.49 1)">E</text><text transform="translate(657.49 611.7) scale(0.41 1)">A</text><text transform="translate(665.58 611.7) scale(0.45 1)">R</text><text transform="translate(673.67 611.7) scale(0.8 1)">I</text><text transform="translate(681.76 611.7) scale(0.41 1)">N</text><text transform="translate(689.85 611.7) scale(0.41 1)">G</text></g>
<g fill="none" stroke="#000">
<circle cx="584.05" cy="515.7" r="12.85" stroke-width="6.3"/>
<line x1="583.6" y1="515.6" x2="598.4" y2="530.4" stroke-width="5.2"/>
<path d="M 618.5 518.4 V 503.3 H 624 A 6.2 6.2 0 0 1 624 515.7 H 618.5" stroke-width="5.3" stroke-linejoin="miter"/>
<path d="M 624 515.9 H 625.75 A 6.05 6.05 0 0 1 625.75 528 H 623.4" stroke-width="6"/>
<path d="M 642.4 531 V 503.4 H 651.1 A 6.15 6.15 0 0 1 651.1 515.7 H 645" stroke-width="5.5" stroke-linejoin="miter"/>
<circle cx="670.1" cy="504.7" r="4.5" stroke-width="0.8" stroke="#222"/>
</g>
<rect x="604.3" y="500.7" width="6.3" height="30.3" fill="#000"/>
<polygon points="648.3,514.5 654.8,514.5 661.2,531 654.6,531" fill="#000"/>
<text x="670.1" y="507.2" font-family="Liberation Sans, sans-serif" font-weight="bold" font-size="6.4" text-anchor="middle" fill="#222">R</text>
<text x="584.6" y="543.7" text-rendering="geometricPrecision" font-family="Liberation Sans, sans-serif" font-weight="bold" font-size="9.9" stroke="#000" stroke-width="0.2" textLength="59.4" lengthAdjust="spacing" fill="#000">BEARINGS</text>
<rect x="584.0" y="538.0" width="1.7" height="4.6" fill="#fff"/>
</g>
</svg>
</body></html>
